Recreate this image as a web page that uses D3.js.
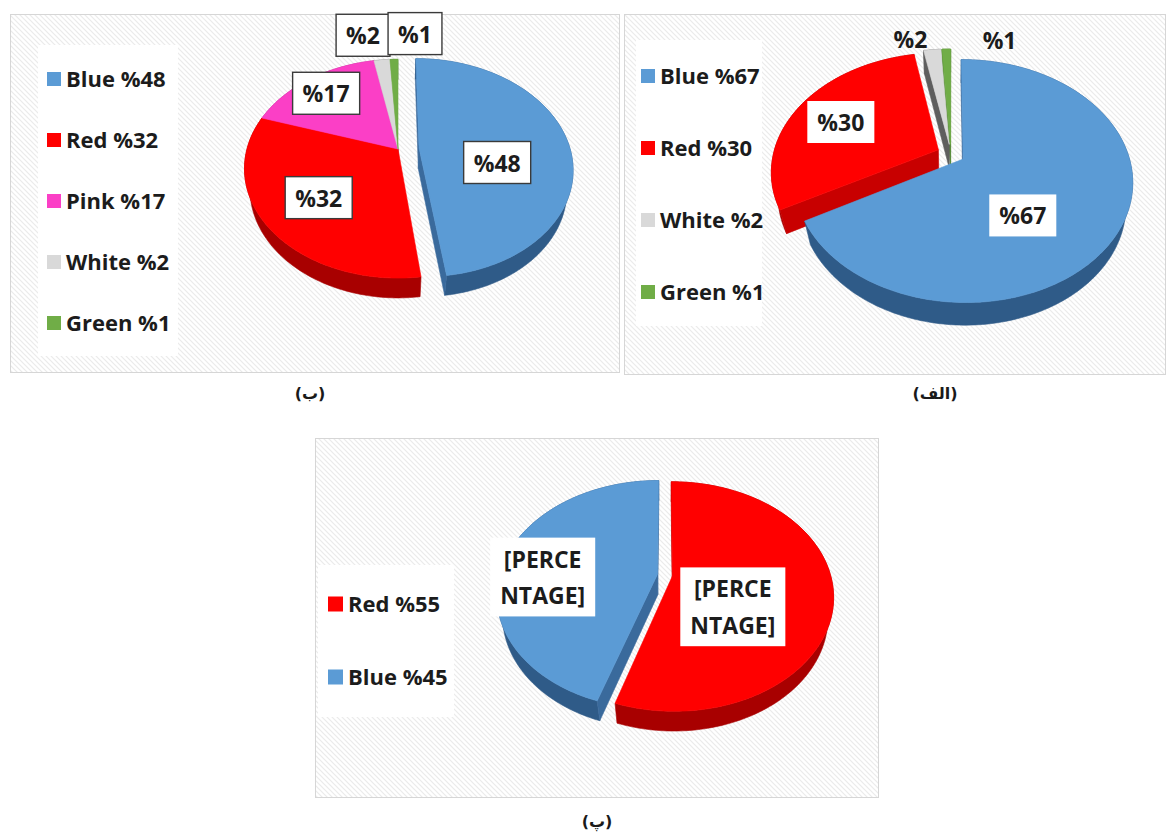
<!DOCTYPE html>
<html>
<head>
<meta charset="utf-8">
<script src="https://cdnjs.cloudflare.com/ajax/libs/d3/7.8.5/d3.min.js"></script>
<style>
  body { margin: 0; background: #fff; }
  svg { display: block; }
  .lbl { font-family: 'Open Sans', sans-serif; font-weight: 700; fill: #1c1c1c; }
  .cap { font-family: 'DejaVu Sans', sans-serif; font-weight: 700; font-size: 16px; fill: #1a1a1a; }
</style>
</head>
<body>
<svg id="chart" width="1167" height="834"></svg>
<script>
// chart (الف)
const catsA = ['Blue', 'Red', 'White', 'Green'];
const valsA = [67, 30, 2, 1];
// chart (ب)
const catsB = ['Blue', 'Red', 'Pink', 'White', 'Green'];
const valsB = [48, 32, 17, 2, 1];
// chart (پ)
const catsC = ['Red', 'Blue'];
const valsC = [55, 45];
const placeholderC = ['[PERCE', 'NTAGE]'];

const topColor  = { Blue: '#5b9bd5', Red: '#ff0000', Pink: '#fb3fc6', White: '#d9d9d9', Green: '#70ad47' };
const sideColor = { Blue: '#2f5b88', Red: '#a80000', Pink: '#b02a8c', White: '#6e6e6e', Green: '#4b7a2f' };
const cutColor  = { Blue: '#3a6a9c', Red: '#c80000', Pink: '#c8309f', White: '#5e5e5e', Green: '#568a36' };

const svg = d3.select('#chart');

// light diagonal hatch used as the chart area fill
const defs = svg.append('defs');
const pat = defs.append('pattern')
    .attr('id', 'hatch')
    .attr('patternUnits', 'userSpaceOnUse')
    .attr('width', 5).attr('height', 5);
pat.append('rect').attr('width', 5).attr('height', 5).attr('fill', '#fff');
pat.append('path')
    .attr('d', 'M-1,-1L6,6M-1,4L1,6M4,-1L6,1')
    .attr('stroke', '#ebebeb')
    .attr('stroke-width', 1.2);

// simple perspective camera for the tilted pies
const elev = 44.5 * Math.PI / 180;
const sE = Math.sin(elev), cE = Math.cos(elev);
const camL = cE / 0.18;

function proj(p, u, w, h) {
    const z = 1 - w * cE / camL + h * sE / camL;
    return [p.cx + p.k * u / z, p.cy + p.k * (w * sE + h * cE) / z];
}

function arcPts(p, s, r, h) {
    const n = Math.max(2, Math.ceil((s.endAngle - s.startAngle) / 0.02));
    return d3.range(n + 1).map(i => {
        const a = s.startAngle + (s.endAngle - s.startAngle) * i / n;
        return proj(p, s.eu + r * Math.sin(a), s.ew - r * Math.cos(a), h);
    });
}

const toPath = pts => 'M' + pts.map(q => q[0].toFixed(2) + ',' + q[1].toFixed(2)).join('L') + 'Z';

// panels
const panels = [
    { x: 10,  y: 14,  w: 609, h: 358, caption: '(ب)',   tx: 310, ty: 399 },
    { x: 624, y: 14,  w: 541, h: 360, caption: '(الف)', tx: 935, ty: 399 },
    { x: 315, y: 438, w: 563, h: 359, caption: '(پ)',   tx: 597, ty: 827 }
];
panels.forEach(p => {
    svg.append('rect')
        .attr('x', p.x + 0.5).attr('y', p.y + 0.5)
        .attr('width', p.w).attr('height', p.h)
        .attr('fill', 'url(#hatch)')
        .attr('stroke', '#d6d6d6');
    svg.append('text')
        .attr('class', 'cap')
        .attr('x', p.tx).attr('y', p.ty)
        .attr('text-anchor', 'middle')
        .text(p.caption);
});

function drawPie(cfg) {
    const g = svg.append('g');
    const data = cfg.cats.map((c, i) => ({ name: c, value: cfg.vals[i] }));
    const arcs = d3.pie().sort(null).value(d => d.value)(data);
    arcs.forEach((s, i) => {
        s.mid = (s.startAngle + s.endAngle) / 2;
        const e = cfg.explode[i];
        s.eu = e * Math.sin(s.mid);
        s.ew = -e * Math.cos(s.mid);
    });

    // side walls (outer rim + cut faces), back to front
    const walls = [];
    arcs.forEach(s => {
        const top = arcPts(cfg, s, 1, 0);
        const bot = arcPts(cfg, s, 1, cfg.depth).reverse();
        const meanCos = (Math.sin(s.endAngle) - Math.sin(s.startAngle)) / (s.endAngle - s.startAngle);
        walls.push({ pts: top.concat(bot), w: s.ew - meanCos, fill: sideColor[s.data.name] });

        [[s.startAngle, -1], [s.endAngle, 1]].forEach(([a, sg]) => {
            const phi = a + sg * Math.PI / 2;
            const facing = Math.sin(phi) * (-s.eu) - Math.cos(phi) * (camL * cE - s.ew);
            if (facing <= 0) return;
            const ru = s.eu + Math.sin(a), rw = s.ew - Math.cos(a);
            walls.push({
                pts: [proj(cfg, s.eu, s.ew, 0), proj(cfg, ru, rw, 0),
                      proj(cfg, ru, rw, cfg.depth), proj(cfg, s.eu, s.ew, cfg.depth)],
                w: s.ew - 0.5 * Math.cos(a),
                fill: cutColor[s.data.name]
            });
        });
    });
    walls.sort((a, b) => a.w - b.w);
    g.selectAll('path.wall')
        .data(walls)
        .enter()
        .append('path')
        .attr('class', 'wall')
        .attr('d', d => toPath(d.pts))
        .attr('fill', d => d.fill)
        .attr('stroke', d => d.fill)
        .attr('stroke-width', 0.6);

    // top faces
    g.selectAll('path.top')
        .data(arcs)
        .enter()
        .append('path')
        .attr('class', 'top')
        .attr('d', s => toPath([proj(cfg, s.eu, s.ew, 0)].concat(arcPts(cfg, s, 1, 0))))
        .attr('fill', s => topColor[s.data.name])
        .attr('stroke', s => topColor[s.data.name])
        .attr('stroke-width', 0.6);

    // data labels
    arcs.forEach((s, i) => {
        const lr = cfg.labelR[i];
        const q = proj(cfg, s.eu + lr * Math.sin(s.mid), s.ew - lr * Math.cos(s.mid), 0);
        const x = q[0] + cfg.nudge[i][0], y = q[1] + cfg.nudge[i][1];
        const lines = cfg.labelText ? cfg.labelText : ['%' + s.data.value];
        const lg = g.append('g');
        const box = lg.append('rect');
        const t = lg.append('text')
            .attr('class', 'lbl')
            .attr('text-anchor', 'middle')
            .style('font-size', cfg.labelSize + 'px');
        const lh = cfg.labelSize * 1.6;
        lines.forEach((ln, j) => {
            t.append('tspan')
                .attr('x', x)
                .attr('y', y + (j - (lines.length - 1) / 2) * lh)
                .attr('dy', '0.35em')
                .text(ln);
        });
        if (cfg.box[i]) {
            const bb = t.node().getBBox();
            box.attr('x', bb.x - cfg.padX).attr('y', bb.y - cfg.padY)
                .attr('width', bb.width + 2 * cfg.padX)
                .attr('height', bb.height + 2 * cfg.padY)
                .attr('fill', '#fff')
                .attr('stroke', cfg.border ? '#3a3a3a' : 'none')
                .attr('stroke-width', 1.4);
        } else {
            box.remove();
        }
    });

    // legend
    const L = cfg.legend;
    svg.append('rect')
        .attr('x', L.bx).attr('y', L.by).attr('width', L.bw).attr('height', L.bh)
        .attr('fill', '#fff');
    const le = svg.append('g')
        .selectAll('g')
        .data(data)
        .enter()
        .append('g')
        .attr('transform', (d, i) => `translate(${L.x},${L.y + i * L.step})`);
    le.append('rect')
        .attr('x', 0).attr('y', -L.sq / 2)
        .attr('width', L.sq).attr('height', L.sq)
        .attr('fill', d => topColor[d.name]);
    le.append('text')
        .attr('class', 'lbl')
        .attr('x', L.sq + 5).attr('dy', '0.35em')
        .style('font-size', L.size + 'px')
        .text(d => `${d.name} %${d.value}`);
}

// (ب)
drawPie({
    cats: catsB, vals: valsB,
    cx: 398, cy: 149, k: 151, depth: 0.2,
    explode: [0.14, 0, 0, 0, 0],
    labelR: [0.55, 0.55, 0.7, 1.3, 1.3],
    nudge: [[-4, 19], [-11, 10], [-8, -4], [-15, -2], [22, -3]],
    box: [1, 1, 1, 1, 1], border: true,
    labelSize: 23, padX: 10, padY: 5,
    legend: { bx: 38, by: 45, bw: 140, bh: 311, x: 47, y: 79, step: 61, sq: 14, size: 22 }
});

// (الف)
drawPie({
    cats: catsA, vals: valsA,
    cx: 951, cy: 154, k: 165, depth: 0.21,
    explode: [0.085, 0.085, 0.085, 0.085],
    labelR: [0.5, 0.6, 1.2, 1.2],
    nudge: [[-16, 26], [-13, 1], [-19, 6], [54, 8]],
    box: [1, 1, 0, 0], border: false,
    labelSize: 23, padX: 10, padY: 5,
    legend: { bx: 636, by: 40, bw: 126, bh: 286, x: 641, y: 76, step: 72, sq: 14, size: 22 }
});

// (پ)
drawPie({
    cats: catsC, vals: valsC,
    cx: 665, cy: 575, k: 158, depth: 0.19,
    explode: [0.048, 0.048],
    labelR: [0.45, 0.6],
    nudge: [[-11, 24], [-23, 14]],
    labelText: placeholderC,
    box: [1, 1], border: false,
    labelSize: 23, padX: 10, padY: 5,
    legend: { bx: 318, by: 565, bw: 136, bh: 152, x: 328, y: 604, step: 73, sq: 15, size: 22 }
});
</script>
</body>
</html>
